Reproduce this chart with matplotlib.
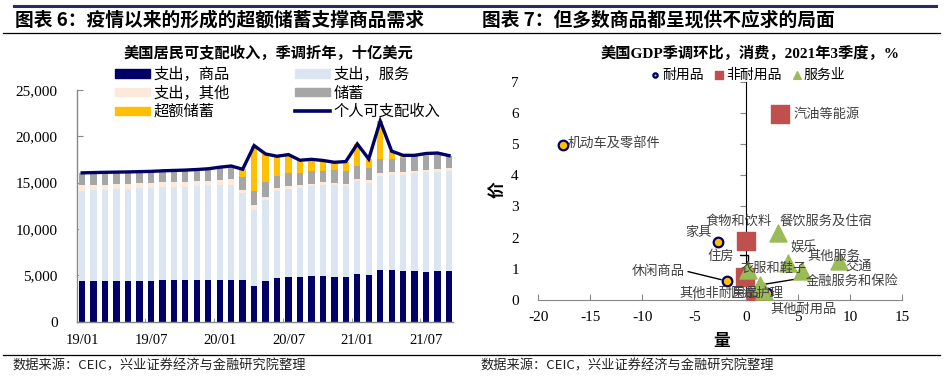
import numpy as np
import matplotlib.pyplot as plt
from matplotlib.patches import Patch
from matplotlib.lines import Line2D

CJK = 'Noto Sans CJK SC'
SERIF = ['Liberation Serif', 'Noto Sans CJK SC']
plt.rcParams['font.family'] = [CJK, 'DejaVu Sans']

# ---------------- left chart: US disposable income, SAAR, bn USD ----------------
months = ['19/01', '19/02', '19/03', '19/04', '19/05', '19/06', '19/07', '19/08', '19/09',
          '19/10', '19/11', '19/12', '20/01', '20/02', '20/03', '20/04', '20/05', '20/06',
          '20/07', '20/08', '20/09', '20/10', '20/11', '20/12', '21/01', '21/02', '21/03',
          '21/04', '21/05', '21/06', '21/07', '21/08', '21/09']
tick_labels = ['19/01', '19/07', '20/01', '20/07', '21/01', '21/07']

goods = [4370, 4370, 4400, 4420, 4430, 4430, 4440, 4450, 4450, 4460, 4460, 4470, 4500, 4500,
         4450, 3870, 4400, 4700, 4840, 4840, 4950, 4950, 4840, 4770, 5130, 5020, 5560, 5560,
         5450, 5520, 5410, 5480, 5520]
services = [9780, 9810, 9850, 9880, 9920, 9970, 10010, 10050, 10070, 10090, 10140, 10180, 10250,
            10300, 9420, 8210, 8750, 9400, 9460, 9610, 9650, 9800, 9860, 9830, 10000, 9980,
            10180, 10290, 10400, 10480, 10690, 10720, 10780]
other = [550, 550, 550, 550, 550, 550, 550, 550, 550, 550, 550, 550, 550, 550,
         300, 470, 350, 300, 300, 300, 300, 280, 300, 300, 220, 250, 280, 280, 280, 280, 250, 280, 280]
saving = [1360, 1360, 1320, 1290, 1260, 1240, 1220, 1230, 1250, 1260, 1270, 1300, 1370, 1450,
          1440, 1500, 1550, 1330, 1400, 1330, 1360, 1250, 1360, 1320, 1500, 1330, 1560, 1430,
          1500, 1600, 1550, 1650, 1340]
excess = [0, 0, 0, 0, 0, 0, 0, 0, 0, 0, 0, 0, 0, 0,
          840, 4950, 3050, 2120, 2030, 1340, 1260, 1120, 840, 1060, 2330, 980, 4070, 840,
          320, 70, 250, 70, 0]
income = [16060, 16090, 16120, 16140, 16160, 16190, 16220, 16280, 16320, 16360, 16420, 16500,
          16670, 16800, 16450, 19000, 18100, 17850, 18030, 17420, 17520, 17400, 17200, 17280,
          19180, 17560, 21650, 18400, 17950, 17950, 18150, 18200, 17920]

# ---------------- right chart: US GDP consumption, 2021Q3, q/q % ----------------
durable_names = ['机动车及零部件', '家具', '休闲商品', '其他耐用品']
durable_x = [-17.6, -2.7, -1.9, 2.0]
durable_y = [4.97, 1.87, 0.61, 0.24]
nondur_names = ['汽油等能源', '食物和饮料', '衣服和鞋子', '其他非耐用品']
nondur_x = [3.2, 0.0, -0.1, 0.9]
nondur_y = [5.95, 1.88, 0.75, 0.10]
serv_names = ['餐饮服务及住宿', '娱乐', '其他服务', '交通', '住房', '金融服务和保险', '医疗护理']
serv_x = [3.0, 4.0, 8.9, 5.4, 0.2, 1.3, 1.7]
serv_y = [2.15, 1.20, 1.25, 0.92, 0.96, 0.48, 0.30]

# label placement (data coords, alignment)
label_pos = {
    '机动车及零部件': (-17.2, 5.02, 'left'), '家具': (-4.6, 2.16, 'center'),
    '休闲商品': (-5.9, 0.91, 'right'), '其他耐用品': (5.5, -0.29, 'center'),
    '汽油等能源': (4.5, 5.93, 'left'), '食物和饮料': (-0.77, 2.51, 'center'),
    '衣服和鞋子': (2.66, 1.02, 'center'), '其他非耐用品': (-2.65, 0.22, 'center'),
    '医疗护理': (1.06, 0.22, 'center'), '餐饮服务及住宿': (7.63, 2.51, 'center'),
    '娱乐': (5.55, 1.66, 'center'), '其他服务': (8.43, 1.41, 'center'),
    '交通': (10.77, 1.07, 'center'), '住房': (-2.43, 1.41, 'center'),
    '金融服务和保险': (10.2, 0.59, 'center'),
}
leaders = {'休闲商品': ((-5.6, 0.91), 'arc3'),
           '住房': ((-0.6, 1.43), 'angle,angleA=0,angleB=90,rad=0'),
           '金融服务和保险': ((4.6, 0.66), 'arc3')}

NAVY = '#000066'
fig = plt.figure(figsize=(9.47, 3.8), dpi=100)
W, H = 947, 380


def fx(px):
    return px / W


def fy(py):
    return 1 - py / H


# header lines / titles / sources
fig.add_artist(Line2D([fx(14), fx(936)], [fy(6), fy(6)], color='#2b2b5e', lw=2.2))
fig.add_artist(Line2D([fx(3), fx(940)], [fy(33), fy(33)], color='black', lw=0.9))
fig.add_artist(Line2D([fx(3), fx(940)], [fy(355), fy(355)], color='black', lw=0.9))
fig.text(fx(15), fy(20), '图表 6：疫情以来的形成的超额储蓄支撑商品需求', fontsize=13.5,
         fontweight='bold', va='center', ha='left')
fig.text(fx(482), fy(20), '图表 7：但多数商品都呈现供不应求的局面', fontsize=13.5,
         fontweight='bold', va='center', ha='left')
fig.text(fx(12), fy(366), '数据来源：CEIC，兴业证券经济与金融研究院整理', fontsize=9.5,
         va='center', ha='left', color='#222222')
fig.text(fx(480), fy(366), '数据来源：CEIC，兴业证券经济与金融研究院整理', fontsize=9.5,
         va='center', ha='left', color='#222222')

# ---------------- left axes ----------------
ax1 = fig.add_axes([fx(77), fy(321.7), fx(453) - fx(77), fy(90) - fy(321.7)])
x = np.arange(len(months))
series = [(goods, NAVY, '支出，商品'), (services, '#DCE6F2', '支出，服务'),
          (other, '#FDE9D9', '支出，其他'), (saving, '#A6A6A6', '储蓄'),
          (excess, '#FFC000', '超额储蓄')]
bottom = np.zeros(len(months))
for vals, color, lab in series:
    ax1.bar(x, vals, 0.55, bottom=bottom, color=color, label=lab, zorder=2)
    bottom += np.array(vals)
ax1.plot(x, income, color=NAVY, lw=2.4, zorder=3, solid_joinstyle='miter')

ax1.set_xlim(-0.45, 32.35)
ax1.set_ylim(0, 25000)
ax1.set_yticks(range(0, 25001, 5000))
ax1.set_yticklabels([f'{v:,}' for v in range(0, 25001, 5000)], family=SERIF, fontsize=11)
tick_idx = [months.index(t) for t in tick_labels]
ax1.set_xticks(tick_idx)
ax1.set_xticklabels(tick_labels, family=SERIF, fontsize=10.5)
ax1.set_xticks([i - 0.5 for i in tick_idx[1:]], minor=True)
ax1.tick_params(axis='x', which='major', length=0, pad=9)
ax1.tick_params(axis='x', which='minor', direction='in', length=3, color='#888888')
ax1.tick_params(axis='y', direction='in', length=4, color='#888888', pad=14)
for s in ['top', 'right']:
    ax1.spines[s].set_visible(False)
for s in ['left', 'bottom']:
    ax1.spines[s].set_color('#888888')
    ax1.spines[s].set_linewidth(1.0)

fig.text(fx(268), fy(53), '美国居民可支配收入，季调折年，十亿美元', fontsize=11,
         fontweight='bold', ha='center', va='center')
handles = [Patch(color=NAVY), Patch(color='#FDE9D9'), Patch(color='#FFC000'),
           Patch(color='#DCE6F2'), Patch(color='#A6A6A6'), Line2D([], [], color=NAVY, lw=2.6)]
labels = ['支出，商品', '支出，其他', '超额储蓄', '支出，服务', '储蓄', '个人可支配收入']
fig.legend(handles, labels, ncol=2, loc='upper left', bbox_to_anchor=(fx(115), fy(66)),
           frameon=False, fontsize=11, handlelength=2.3, handleheight=0.45,
           handletextpad=0.2, columnspacing=4.3, labelspacing=0.1, borderpad=0,
           borderaxespad=0)

# ---------------- right axes ----------------
ax2 = fig.add_axes([fx(538.3), fy(300), fx(902.3) - fx(538.3), fy(81.6) - fy(300)])
ax2.set_xlim(-20, 15)
ax2.set_ylim(0, 7)
ax2.scatter(durable_x, durable_y, s=48, color='#FFC000', edgecolor=NAVY, linewidth=1.6,
            zorder=4, label='耐用品')
ax2.scatter(nondur_x, nondur_y, s=150, marker='s', color='#C0504D', zorder=4, label='非耐用品')
ax2.scatter(serv_x, serv_y, s=150, marker='^', color='#9BBB59', zorder=4, label='服务业')

for name, (tx, ty, ha) in label_pos.items():
    ax2.text(tx, ty, name, fontsize=9.5, ha=ha, va='center', color='#404040', zorder=5)
all_pts = dict(zip(durable_names, zip(durable_x, durable_y)))
all_pts.update(zip(nondur_names, zip(nondur_x, nondur_y)))
all_pts.update(zip(serv_names, zip(serv_x, serv_y)))
for name, (start, cs) in leaders.items():
    ax2.annotate('', xy=all_pts[name], xytext=start,
                 arrowprops=dict(arrowstyle='-', color='black', lw=1.0, shrinkA=0, shrinkB=4,
                                 connectionstyle=cs))

ax2.set_xticks(range(-20, 16, 5))
ax2.set_xticklabels([str(v) for v in range(-20, 16, 5)], family=SERIF, fontsize=11)
ax2.set_yticks(range(0, 8))
ax2.set_yticklabels([str(v) for v in range(0, 8)], family=SERIF, fontsize=11)
ax2.tick_params(axis='x', direction='in', length=4, color='#888888', pad=8)
ax2.tick_params(axis='y', length=0, pad=14)
for s in ['top', 'right', 'left']:
    ax2.spines[s].set_visible(False)
ax2.spines['bottom'].set_color('#888888')
sec = ax2.secondary_yaxis(20 / 35)
sec.set_yticks(range(0, 8))
sec.set_yticklabels([])
sec.tick_params(direction='in', length=4, color='#888888')
sec.spines['left'].set_color('#888888')

fig.text(fx(750), fy(53), '美国GDP季调环比，消费，2021年3季度，%', fontsize=11,
         fontweight='bold', ha='center', va='center', family=SERIF)
ax2.legend(loc='center', bbox_to_anchor=(fx(748), fy(75)), bbox_transform=fig.transFigure,
           ncol=3, frameon=False, fontsize=10, markerscale=0.45, handlelength=0.6,
           handletextpad=0.2, columnspacing=0.8, borderpad=0)
fig.text(fx(497), fy(190), '价', fontsize=12, fontweight='bold', rotation=90,
         ha='center', va='center')
fig.text(fx(722), fy(341), '量', fontsize=12, fontweight='bold', ha='center', va='center')

fig.savefig('out.png', dpi=100)
